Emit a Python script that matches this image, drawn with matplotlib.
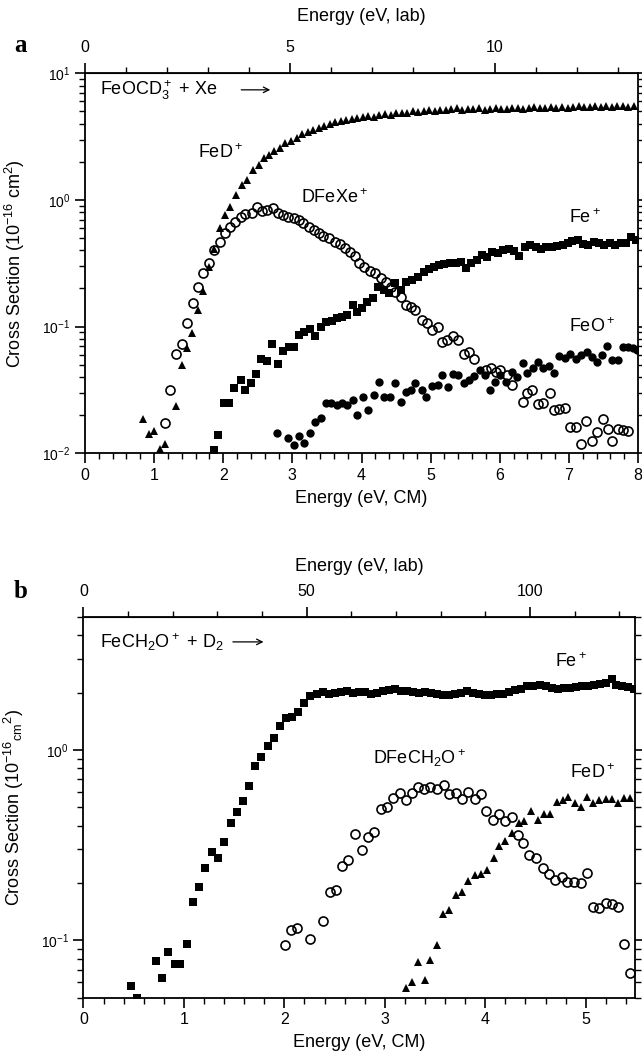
import numpy as np
import matplotlib
matplotlib.use("Agg")
import matplotlib.pyplot as plt
from matplotlib.ticker import MultipleLocator, LogLocator, NullFormatter

plt.rcParams['font.family'] = ['Liberation Sans', 'DejaVu Sans']
plt.rcParams['mathtext.default'] = 'regular'

# ---------------- panel a : FeOCD3+ + Xe ----------------
a_fed_e = [0.84, 0.93, 1.00, 1.08, 1.16, 1.32, 1.40, 1.47, 1.55, 1.63, 1.70, 1.79,
           1.87, 1.95, 2.02, 2.10, 2.18, 2.27, 2.34, 2.43, 2.51, 2.59,
           2.66, 2.74, 2.82, 2.90, 2.98, 3.06, 3.14, 3.22, 3.30, 3.38, 3.46, 3.54,
           3.62, 3.70, 3.78, 3.86, 3.94, 4.02, 4.10, 4.18, 4.26, 4.34, 4.42, 4.50,
           4.58, 4.66, 4.74, 4.82, 4.90, 4.98, 5.06, 5.14, 5.22, 5.30, 5.38, 5.46,
           5.54, 5.62, 5.70, 5.78, 5.86, 5.94, 6.02, 6.10, 6.18, 6.26, 6.34, 6.42,
           6.50, 6.58, 6.66, 6.74, 6.82, 6.90, 6.98, 7.06, 7.14, 7.22, 7.30, 7.38,
           7.46, 7.54, 7.62, 7.70, 7.78, 7.86, 7.94]
a_fed_s = [0.0187, 0.0141, 0.0150, 0.0108, 0.0118, 0.0237, 0.0498, 0.0675, 0.0886, 0.1355, 0.192, 0.298,
           0.408, 0.597, 0.762, 0.885, 1.095, 1.313, 1.438, 1.726, 1.89, 2.13,
           2.25, 2.42, 2.58, 2.80, 2.92, 3.10, 3.30, 3.42, 3.58, 3.70, 3.86, 3.95,
           4.10, 4.18, 4.30, 4.38, 4.45, 4.52, 4.60, 4.55, 4.70, 4.78, 4.72, 4.85,
           4.90, 4.85, 5.00, 4.95, 5.05, 5.10, 5.02, 5.15, 5.10, 5.20, 5.30, 5.15,
           5.25, 5.22, 5.30, 5.15, 5.25, 5.30, 5.20, 5.18, 5.28, 5.35, 5.22, 5.30,
           5.40, 5.32, 5.28, 5.45, 5.35, 5.40, 5.30, 5.42, 5.48, 5.38, 5.45, 5.50,
           5.40, 5.52, 5.45, 5.48, 5.55, 5.45, 5.50]

a_dfexe_e = [1.16, 1.23, 1.31, 1.40, 1.47, 1.56, 1.63, 1.71, 1.79, 1.86, 1.95, 2.03,
             2.10, 2.17, 2.25, 2.32, 2.41, 2.49, 2.56, 2.63, 2.72, 2.79, 2.87, 2.94,
             3.02, 3.09, 3.16, 3.24, 3.31, 3.38, 3.45, 3.53, 3.61, 3.69, 3.76, 3.83,
             3.90, 3.96, 4.03, 4.12, 4.19, 4.28, 4.35, 4.42, 4.49, 4.57, 4.64, 4.71,
             4.78, 4.88, 4.95, 5.02, 5.10, 5.17, 5.24, 5.33, 5.40, 5.48, 5.56, 5.63,
             5.80, 5.87, 5.94, 6.01, 6.10, 6.17, 6.33, 6.40, 6.47, 6.56, 6.63, 6.72,
             6.79, 6.86, 6.94, 7.02, 7.10, 7.17, 7.25, 7.33, 7.41, 7.49, 7.56, 7.63,
             7.71, 7.78, 7.86]
a_dfexe_s = [0.0173, 0.0313, 0.0608, 0.073, 0.1076, 0.1546, 0.207, 0.264, 0.316, 0.403, 0.469, 0.546,
             0.616, 0.674, 0.738, 0.775, 0.785, 0.886, 0.824, 0.834, 0.859, 0.794, 0.762, 0.738,
             0.717, 0.695, 0.654, 0.616, 0.580, 0.546, 0.520, 0.498, 0.469, 0.450, 0.421, 0.391,
             0.364, 0.316, 0.298, 0.277, 0.264, 0.241, 0.227, 0.205, 0.189, 0.1725, 0.148, 0.144,
             0.1355, 0.113, 0.106, 0.094, 0.100, 0.076, 0.0785, 0.0844, 0.0785, 0.0608, 0.0635, 0.0552,
             0.0455, 0.0469, 0.0441, 0.0455, 0.0415, 0.0346, 0.0256, 0.0301, 0.0316, 0.0245, 0.0248, 0.0298,
             0.0220, 0.0222, 0.0227, 0.01625, 0.0160, 0.01186, 0.0181, 0.0126, 0.0148, 0.0185, 0.0155, 0.0126,
             0.0155, 0.0153, 0.0150]

a_fe_e = [1.86, 1.93, 2.01, 2.09, 2.16, 2.25, 2.32, 2.40, 2.48, 2.55, 2.63, 2.71,
          2.79, 2.87, 2.95, 3.02, 3.10, 3.17, 3.25, 3.33, 3.42, 3.49, 3.58, 3.65,
          3.72, 3.79, 3.87, 3.94, 4.01, 4.08, 4.16, 4.24, 4.32, 4.40, 4.49, 4.57,
          4.65, 4.73, 4.81, 4.90, 4.98, 5.05, 5.12, 5.19, 5.28, 5.36, 5.44, 5.51,
          5.59, 5.67, 5.75, 5.82, 5.89, 5.98, 6.05, 6.14, 6.21, 6.28, 6.36, 6.44,
          6.52, 6.59, 6.67, 6.75, 6.83, 6.91, 6.98, 7.05, 7.13, 7.21, 7.28, 7.37,
          7.44, 7.51, 7.60, 7.67, 7.75, 7.83, 7.90, 7.97]
a_fe_s = [0.0106, 0.01395, 0.0248, 0.0251, 0.0326, 0.0379, 0.0313, 0.0357, 0.0423, 0.0552, 0.0539, 0.073,
          0.0507, 0.0647, 0.0687, 0.0687, 0.0859, 0.0914, 0.0953, 0.0844, 0.100, 0.1094, 0.1114, 0.1163,
          0.120, 0.1236, 0.148, 0.131, 0.1396, 0.1575, 0.1675, 0.2045, 0.1946, 0.1833, 0.2198, 0.1946,
          0.2265, 0.2335, 0.245, 0.2717, 0.2836, 0.2975, 0.307, 0.3125, 0.316, 0.316, 0.326, 0.289,
          0.316, 0.336, 0.368, 0.357, 0.391, 0.379, 0.403, 0.408, 0.398, 0.361, 0.428, 0.441,
          0.428, 0.408, 0.423, 0.428, 0.433, 0.441, 0.461, 0.478, 0.483, 0.450, 0.441, 0.469,
          0.455, 0.441, 0.461, 0.441, 0.455, 0.461, 0.507, 0.483]

a_feo_e = [2.78, 2.94, 3.02, 3.09, 3.17, 3.25, 3.33, 3.41, 3.49, 3.56, 3.65, 3.72,
           3.79, 3.87, 3.94, 4.02, 4.09, 4.18, 4.26, 4.32, 4.41, 4.48, 4.57, 4.64,
           4.71, 4.78, 4.87, 4.94, 5.02, 5.10, 5.17, 5.25, 5.33, 5.40, 5.48, 5.56,
           5.63, 5.71, 5.78, 5.86, 5.93, 6.01, 6.09, 6.17, 6.25, 6.33, 6.40, 6.48,
           6.56, 6.63, 6.71, 6.79, 6.86, 6.94, 7.02, 7.10, 7.18, 7.26, 7.33, 7.41,
           7.48, 7.55, 7.63, 7.71, 7.78, 7.85, 7.93, 7.99]
a_feo_s = [0.0144, 0.0131, 0.01164, 0.0137, 0.01214, 0.01456, 0.0178, 0.0189, 0.0251, 0.0251, 0.0241, 0.0248,
           0.0241, 0.0264, 0.0201, 0.0277, 0.022, 0.0289, 0.0368, 0.028, 0.028, 0.0361, 0.0256, 0.0307,
           0.0313, 0.0357, 0.0316, 0.0277, 0.034, 0.0346, 0.0415, 0.0336, 0.0423, 0.0415, 0.0361, 0.0379,
           0.0408, 0.0455, 0.0415, 0.0316, 0.0368, 0.0415, 0.0368, 0.0441, 0.0403, 0.052, 0.0428, 0.0469,
           0.053, 0.0469, 0.0489, 0.0433, 0.0586, 0.0562, 0.0608, 0.0552, 0.0597, 0.0635, 0.058, 0.053,
           0.0597, 0.0704, 0.0546, 0.0546, 0.0695, 0.0687, 0.0675, 0.0655]

# ---------------- panel b : FeCH2O+ + D2 ----------------
b_fe_e = [0.47, 0.53, 0.72, 0.78, 0.84, 0.91, 0.96, 1.03, 1.09, 1.15, 1.21, 1.28,
          1.34, 1.40, 1.47, 1.53, 1.59, 1.65, 1.71, 1.77, 1.84, 1.90, 1.96, 2.02,
          2.08, 2.14, 2.20, 2.26, 2.32, 2.38, 2.44, 2.50, 2.56, 2.62, 2.68,
          2.74, 2.80, 2.86, 2.92, 2.98, 3.04, 3.10, 3.16, 3.22, 3.28, 3.34, 3.40,
          3.46, 3.52, 3.58, 3.64, 3.70, 3.76, 3.82, 3.88, 3.94, 4.00, 4.06, 4.12,
          4.18, 4.24, 4.30, 4.36, 4.42, 4.48, 4.54, 4.60, 4.66, 4.72, 4.78, 4.84,
          4.90, 4.96, 5.02, 5.08, 5.14, 5.20, 5.26, 5.30, 5.36, 5.42, 5.48]
b_fe_s = [0.0573, 0.0497, 0.0775, 0.0634, 0.0868, 0.0754, 0.0748, 0.0953, 0.159, 0.191, 0.241, 0.292,
          0.272, 0.33, 0.411, 0.473, 0.541, 0.647, 0.828, 0.919, 1.05, 1.16, 1.34, 1.47,
          1.49, 1.59, 1.76, 1.92, 1.97, 2.02, 1.97, 1.99, 2.03, 2.05, 2.00,
          2.01, 2.03, 1.98, 2.00, 2.04, 2.06, 2.08, 2.05, 2.04, 2.02, 2.00, 2.01,
          1.99, 1.97, 1.95, 1.94, 1.98, 2.00, 2.04, 2.00, 1.97, 1.95, 1.94, 1.97,
          1.98, 2.02, 2.06, 2.10, 2.16, 2.18, 2.19, 2.16, 2.12, 2.10, 2.11, 2.13,
          2.14, 2.16, 2.17, 2.20, 2.22, 2.25, 2.35, 2.20, 2.16, 2.14, 2.08]

b_dfe_e = [2.01, 2.07, 2.13, 2.26, 2.38, 2.45, 2.51, 2.57, 2.63, 2.70, 2.77, 2.83,
           2.89, 2.96, 3.02, 3.08, 3.15, 3.21, 3.27, 3.33, 3.39, 3.45, 3.52, 3.59,
           3.64, 3.71, 3.77, 3.83, 3.90, 3.96, 4.01, 4.08, 4.14, 4.20, 4.27, 4.33,
           4.38, 4.44, 4.51, 4.57, 4.63, 4.69, 4.76, 4.81, 4.88, 4.95, 5.01, 5.07,
           5.13, 5.20, 5.26, 5.32, 5.38, 5.44]
b_dfe_s = [0.0949, 0.113, 0.1167, 0.102, 0.1264, 0.1795, 0.1833, 0.245, 0.264, 0.364, 0.298, 0.347,
           0.372, 0.487, 0.503, 0.557, 0.591, 0.546, 0.596, 0.636, 0.621, 0.641, 0.621, 0.652,
           0.586, 0.596, 0.554, 0.604, 0.55, 0.585, 0.478, 0.428, 0.46, 0.425, 0.442, 0.357,
           0.323, 0.279, 0.271, 0.241, 0.222, 0.207, 0.215, 0.203, 0.203, 0.199, 0.227, 0.15,
           0.147, 0.157, 0.155, 0.149, 0.096, 0.0673]

b_fed_e = [3.21, 3.27, 3.33, 3.40, 3.45, 3.52, 3.58, 3.64, 3.71, 3.77, 3.83, 3.90,
           3.96, 4.02, 4.09, 4.14, 4.20, 4.27, 4.34, 4.39, 4.46, 4.52, 4.58, 4.64,
           4.71, 4.77, 4.82, 4.89, 4.95, 5.01, 5.07, 5.13, 5.20, 5.26, 5.32, 5.38, 5.44]
b_fed_s = [0.0564, 0.0604, 0.0769, 0.0621, 0.079, 0.0941, 0.137, 0.144, 0.1725, 0.1795, 0.205, 0.22,
           0.222, 0.235, 0.272, 0.313, 0.333, 0.367, 0.415, 0.425, 0.478, 0.431, 0.459, 0.459,
           0.535, 0.546, 0.568, 0.524, 0.503, 0.568, 0.528, 0.546, 0.55, 0.55, 0.524, 0.557, 0.557]

# lab/CM conversion factors (mass ratios)
fa = 221.0 / 131.0
fb = 90.0 / 4.0

fig = plt.figure(figsize=(6.42, 10.62), dpi=100)
axa = fig.add_axes([0.1324, 0.5732, 0.8614, 0.3578])
axb = fig.add_axes([0.130, 0.0607, 0.859, 0.3583])

tri = dict(marker='^', ls='none', color='black', ms=6, mew=0)
sq = dict(marker='s', ls='none', color='black', ms=5.5, mew=0)
oc = dict(marker='o', ls='none', mfc='none', mec='black', ms=6.5, mew=1.2)
fc = dict(marker='o', ls='none', color='black', ms=6, mew=0)

axa.plot(a_fed_e, a_fed_s, **tri)
axa.plot(a_fe_e, a_fe_s, **sq)
axa.plot(a_feo_e, a_feo_s, **fc)
axa.plot(a_dfexe_e, a_dfexe_s, **oc)

axb.plot(b_fe_e, b_fe_s, **sq)
axb.plot(b_fed_e, b_fed_s, **tri)
axb.plot(b_dfe_e, b_dfe_s, **oc)


def style(ax, xmax, ylim, lab_major, lab_minor, f, ylabel, toppad):
    ax.set_yscale('log')
    ax.set_xlim(0, xmax)
    ax.set_ylim(*ylim)
    ax.xaxis.set_major_locator(MultipleLocator(1))
    ax.xaxis.set_minor_locator(MultipleLocator(0.2))
    ax.yaxis.set_minor_locator(LogLocator(base=10, subs=np.arange(2, 10)))
    ax.yaxis.set_minor_formatter(NullFormatter())
    ax.tick_params(which='both', direction='out', right=True, top=False)
    ax.tick_params(which='major', length=7, width=1.2, labelsize=11.5)
    ax.tick_params(which='minor', length=4, width=1)
    ax.tick_params(axis='y', which='major', labelsize=10)
    for s in ax.spines.values():
        s.set_linewidth(1.3)
    ax.set_xlabel('Energy (eV, CM)', fontsize=13, labelpad=5)
    ax.set_ylabel(ylabel, fontsize=13)
    ax.yaxis.set_label_coords(-0.105, 0.5)
    sec = ax.secondary_xaxis('top', functions=(lambda e: e * f, lambda l: l / f))
    sec.set_xticks(lab_major)
    sec.xaxis.set_minor_locator(MultipleLocator(lab_minor))
    sec.tick_params(which='both', direction='out')
    sec.tick_params(which='major', length=7, width=1.2, labelsize=11.5, pad=6)
    sec.tick_params(which='minor', length=4, width=1)
    sec.set_xlabel('Energy (eV, lab)', fontsize=13, labelpad=toppad)
    return sec


style(axa, 8, (0.01, 10), [0, 5, 10], 1, fa, 'Cross Section (10$^{-16}$ cm$^2$)', 14)
style(axb, 5.49, (0.05, 5), [0, 50, 100], 10, fb, 'Cross Section (10$^{-16}$$_{cm}$$^2$)', 9)

# labels panel a
axa.text(0.22, 7.4, 'FeOCD$_3^+$ + Xe', fontsize=13, va='center')
axa.annotate('', xy=(2.72, 7.4), xytext=(2.22, 7.4),
             arrowprops=dict(arrowstyle='->', lw=0.9, color='black'))
axa.text(1.64, 2.35, 'FeD$^+$', fontsize=13, va='center')
axa.text(3.12, 1.04, 'DFeXe$^+$', fontsize=13, va='center')
axa.text(7.0, 0.73, 'Fe$^+$', fontsize=13, va='center')
axa.text(7.0, 0.10, 'FeO$^+$', fontsize=13, va='center')

# labels panel b
axb.text(0.16, 3.7, 'FeCH$_2$O$^+$ + D$_2$', fontsize=13, va='center')
axb.annotate('', xy=(1.82, 3.7), xytext=(1.46, 3.7),
             arrowprops=dict(arrowstyle='->', lw=0.9, color='black'))
axb.text(4.69, 2.9, 'Fe$^+$', fontsize=13, va='center')
axb.text(2.88, 0.908, 'DFeCH$_2$O$^+$', fontsize=13, va='center')
axb.text(4.84, 0.757, 'FeD$^+$', fontsize=13, va='center')

fig.text(0.022, 1 - 45 / 1062, 'a', fontsize=18, fontweight='bold',
         family='Liberation Serif', va='center')
fig.text(0.022, 1 - 592 / 1062, 'b', fontsize=18, fontweight='bold',
         family='Liberation Serif', va='center')

fig.savefig('out.png', dpi=100)
